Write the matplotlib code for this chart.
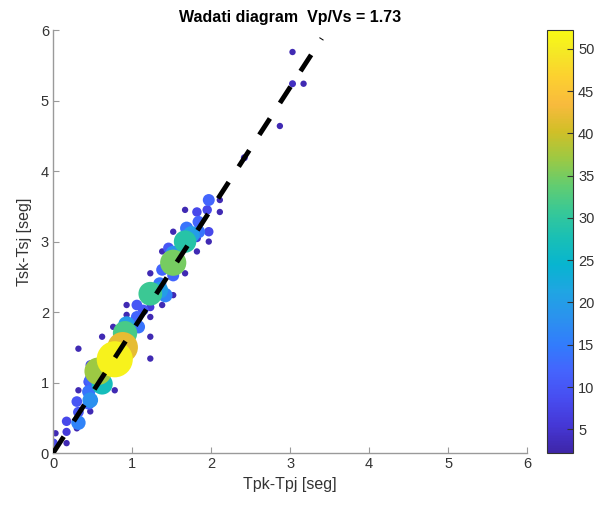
import numpy as np
import matplotlib
matplotlib.use('Agg')
import matplotlib.pyplot as plt
from matplotlib.colors import LinearSegmentedColormap

plt.rcParams['font.family'] = ['Liberation Sans', 'DejaVu Sans']

# differences Tpk-Tpj, Tsk-Tsj and number of pairs at each point
tp = [0.00, 0.00, 0.03, 0.17, 0.17, 0.17, 0.30, 0.32, 0.32, 0.30,
      0.32, 0.47, 0.45, 0.47, 0.45, 0.47, 0.47, 0.45, 0.62, 0.57,
      0.78, 0.32, 0.62, 0.88, 0.78, 0.76, 0.93, 0.91, 0.93, 0.93,
      1.06, 1.08, 1.06, 1.14, 1.23, 1.23, 1.23, 1.23, 1.23, 1.35,
      1.38, 1.42, 1.35, 1.23, 1.38, 1.52, 1.52, 1.52, 1.38, 1.46,
      1.52, 1.67, 1.67, 1.75, 1.69, 1.82, 1.82, 1.97, 1.84, 1.97,
      1.52, 1.84, 1.82, 1.67, 1.95, 2.11, 1.97, 2.11, 2.42, 2.87,
      3.03, 3.17, 3.03]
ts = [0.00, 0.14, 0.28, 0.14, 0.30, 0.45, 0.35, 0.43, 0.58, 0.73,
      0.89, 0.59, 0.70, 0.75, 0.87, 1.04, 1.25, 1.01, 0.98, 1.16,
      0.89, 1.48, 1.65, 1.50, 1.33, 1.79, 1.82, 1.70, 1.96, 2.10,
      1.93, 1.79, 2.10, 2.03, 1.93, 2.07, 1.65, 1.34, 2.26, 2.31,
      2.10, 2.24, 2.40, 2.55, 2.60, 2.52, 2.24, 2.70, 2.86, 2.91,
      2.83, 2.55, 3.00, 3.10, 3.19, 2.86, 3.05, 3.00, 3.14, 3.14,
      3.14, 3.28, 3.42, 3.45, 3.45, 3.42, 3.59, 3.59, 4.19, 4.64,
      5.24, 5.24, 5.69]
npairs = [2, 8, 3, 3, 6, 8, 3, 16, 10, 10,
          3, 3, 12, 18, 14, 12, 8, 10, 27, 37,
          3, 3, 3, 42, 51, 3, 20, 32, 3, 3,
          12, 14, 10, 10, 3, 6, 3, 3, 31, 20,
          3, 16, 14, 3, 12, 12, 3, 35, 3, 10,
          18, 3, 29, 20, 14, 3, 6, 3, 14, 8,
          3, 12, 8, 3, 8, 3, 12, 3, 4, 3,
          4, 3, 3]
vpvs = 1.73
line_x = [0, 3.4]

# matlab parula, every 4th row of parula(64)
parula_rows = [
    (0.2422, 0.1504, 0.6603), (0.2706, 0.2147, 0.8364), (0.2813, 0.3006, 0.9414),
    (0.2699, 0.3892, 0.9906), (0.1963, 0.4847, 0.9892), (0.1687, 0.5703, 0.9359),
    (0.1248, 0.6459, 0.8883), (0.0297, 0.7082, 0.8163), (0.0964, 0.7500, 0.7120),
    (0.2161, 0.7843, 0.5923), (0.3909, 0.8029, 0.4354), (0.6174, 0.7876, 0.2612),
    (0.8203, 0.7498, 0.1535), (0.9728, 0.7298, 0.2394), (0.9892, 0.8136, 0.1885),
    (0.9597, 0.9135, 0.1423), (0.9769, 0.9839, 0.0805)]
parula_pos = [i / 63 for i in range(0, 64, 4)] + [1.0]
parula = LinearSegmentedColormap.from_list('parula', list(zip(parula_pos, parula_rows)))

tp = np.array(tp)
ts = np.array(ts)
npairs = np.array(npairs)
order = np.argsort(npairs, kind='stable')
diam = (4.5 + 0.62 * npairs) / 1.389
sizes = diam ** 2

fig = plt.figure(figsize=(5.97, 5.07), dpi=100)
ax = fig.add_axes([0.089, 0.1065, 0.794, 0.834])

sc = ax.scatter(tp[order], ts[order], s=sizes[order], c=npairs[order],
                cmap=parula, vmin=2.2, vmax=52.2, edgecolors='none', zorder=2)
ax.plot(line_x, vpvs * np.array(line_x), color='k', lw=3.5,
        dashes=(4.0, 3.8), dash_capstyle='butt', zorder=3)

ax.set_xlim(0, 6)
ax.set_ylim(0, 6)
ax.set_xticks(range(7))
ax.set_yticks(range(7))
for s in ['top', 'right']:
    ax.spines[s].set_visible(False)
for s in ['left', 'bottom']:
    ax.spines[s].set_color('#9a9a9a')
    ax.spines[s].set_linewidth(1.0)
ax.tick_params(direction='in', length=4, color='#9a9a9a', labelsize=10.5,
               labelcolor='#333333', pad=3)
ax.set_xlabel('Tpk-Tpj [seg]', fontsize=11.5, color='#333333', labelpad=4)
ax.set_ylabel('Tsk-Tsj [seg]', fontsize=11.5, color='#333333', labelpad=6)
ax.set_title('Wadati diagram  Vp/Vs = 1.73', fontsize=11.5, fontweight='bold', pad=6)

cax = fig.add_axes([0.917, 0.1065, 0.043, 0.834])
cb = fig.colorbar(sc, cax=cax, ticks=range(5, 55, 5))
cb.outline.set_edgecolor('#333333')
cb.outline.set_linewidth(0.8)
cax.tick_params(direction='in', length=4, color='#333333', labelsize=10.5,
                labelcolor='#333333')

fig.savefig('out.png', dpi=100)
